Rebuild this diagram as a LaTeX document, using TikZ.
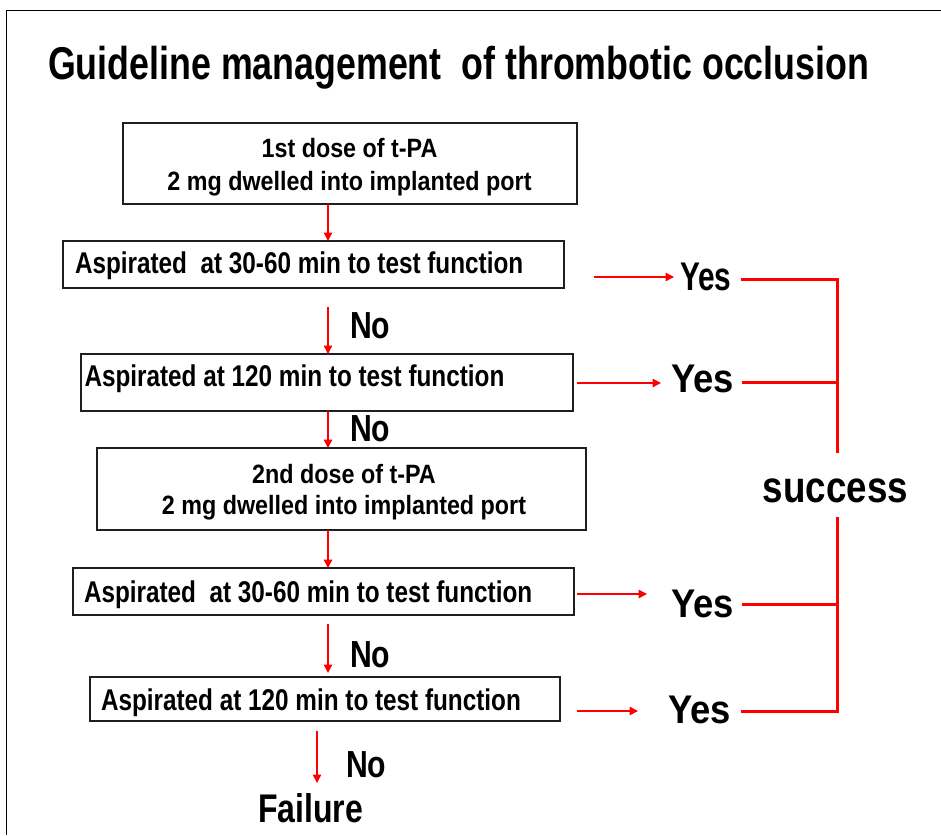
\documentclass[tikz,border=0pt]{standalone}
\usepackage{fontspec}
\setmainfont{Liberation Sans}
\usetikzlibrary{arrows.meta}
\newcommand\sx[2]{\scalebox{#1}[1]{#2}}
\begin{document}
\begin{tikzpicture}[x=1pt,y=-1pt,
  every node/.style={inner sep=0pt, outer sep=0pt},
  box/.style={draw=black!88, line width=1.8pt, rectangle},
  ttl/.style={font=\bfseries\fontsize{46}{54}\selectfont, anchor=base west},
  t1/.style={font=\bfseries\fontsize{30}{36}\selectfont, anchor=base west},
  t2/.style={font=\bfseries\fontsize{26.5}{32}\selectfont, anchor=base},
  yes/.style={font=\bfseries\fontsize{40}{48}\selectfont, anchor=base west},
  no/.style={font=\bfseries\fontsize{37.7}{44}\selectfont, anchor=base west},
  arr/.style={draw=red, line width=1.4pt, -{Triangle[length=8.5pt,width=8.5pt]}},
  brk/.style={draw=red, line width=3pt},
]
\useasboundingbox (0,0) rectangle (941,835);
\fill[white] (0,0) rectangle (941,835);
% frame
\draw[line width=1.8pt] (6.5,835) -- (6.5,10.5) -- (941,10.5);

% title
\node[ttl] (title) at (48,79) {\sx{0.778}{Guideline management~ of thrombotic occlusion}};

% boxes
\node[box, minimum width=454pt, minimum height=81pt] (b1) at (350,163.5) {};
\node[box, minimum width=501pt, minimum height=47pt] (b2) at (313.5,264.5) {};
\node[box, minimum width=492pt, minimum height=57pt] (b3) at (327,382.5) {};
\node[box, minimum width=489pt, minimum height=82pt] (b4) at (341.5,489) {};
\node[box, minimum width=501pt, minimum height=47pt] (b5) at (323.5,591.5) {};
\node[box, minimum width=470pt, minimum height=44pt] (b6) at (325,699) {};

% box texts
\node[t2] (b1a) at (349.5,157) {\sx{0.88}{1st dose of t-PA}};
\node[t2] (b1b) at (349.5,190) {\sx{0.88}{2 mg dwelled into implanted port}};
\node[t1] (b2t) at (75,273) {\sx{0.81}{Aspirated~ at 30-60 min to test function}};
\node[t1] (b3t) at (84.5,386) {\sx{0.81}{Aspirated at 120 min to test function}};
\node[t2] (b4a) at (344,483) {\sx{0.88}{2nd dose of t-PA}};
\node[t2] (b4b) at (344,514) {\sx{0.88}{2 mg dwelled into implanted port}};
\node[t1] (b5t) at (84,602) {\sx{0.81}{Aspirated~ at 30-60 min to test function}};
\node[t1] (b6t) at (101,710) {\sx{0.81}{Aspirated at 120 min to test function}};

% yes / no / outcomes
\node[yes] (y1) at (680,290) {\sx{0.745}{Yes}};
\node[yes] (y2) at (671,392) {\sx{0.91}{Yes}};
\node[yes] (y3) at (671,617) {\sx{0.91}{Yes}};
\node[yes] (y4) at (668,723) {\sx{0.91}{Yes}};
\node[no] (n1) at (350,338) {\sx{0.8}{No}};
\node[no] (n2) at (350,441) {\sx{0.8}{No}};
\node[no] (n3) at (350,667) {\sx{0.8}{No}};
\node[no] (n4) at (346,777) {\sx{0.8}{No}};
\node[font=\bfseries\fontsize{40}{48}\selectfont, anchor=base west] (fail) at (258,822) {\sx{0.8}{Failure}};
\node[font=\bfseries\fontsize{44}{52}\selectfont, anchor=base, text height=49pt, text depth=15pt] (s) at (835.5,502) {\sx{0.835}{success}};

% helper coordinates
\coordinate (ax) at (328,0);
\coordinate (ax2) at (317,0);
\coordinate (r1) at (0,277);
\coordinate (r2) at (0,383);
\coordinate (r3) at (0,594);
\coordinate (r4) at (0,711);
\coordinate (j1) at (837,279);
\coordinate (j2) at (837,382);
\coordinate (j3) at (837,604);
\coordinate (j4) at (837,711);

% vertical arrows
\draw[arr] (b1.south -| ax) -- (b2.north -| ax);
\draw[arr, shorten <=19pt] (b2.south -| ax) -- (b3.north -| ax);
\draw[arr] (b3.south -| ax) -- (b4.north -| ax);
\draw[arr] (b4.south -| ax) -- (b5.north -| ax);
\draw[arr, shorten <=9pt, shorten >=4pt] (b5.south -| ax) -- (b6.north -| ax);
\draw[arr, shorten <=10pt, shorten >=10pt] (b6.south -| ax2) -- (fail.north -| ax2);

% horizontal arrows
\draw[arr, shorten <=30pt, shorten >=6pt] (b2.east |- r1) -- (y1.west |- r1);
\draw[arr, shorten <=4pt, shorten >=10pt] (b3.east |- r2) -- (y2.west |- r2);
\draw[arr, shorten <=3pt, shorten >=24pt] (b5.east |- r3) -- (y3.west |- r3);
\draw[arr, shorten <=17pt, shorten >=30pt] (b6.east |- r4) -- (y4.west |- r4);

% success bracket
\draw[brk, shorten <=10pt] (y1.east |- j1) -- (j1) -- (j1 |- s.north);
\draw[brk, shorten <=8pt] (y2.east |- j2) -- (j2);
\draw[brk, shorten <=8pt] (y3.east |- j3) -- (j3);
\draw[brk, shorten >=10pt] (j4 |- s.south) -- (j4) -- (y4.east |- j4);
\end{tikzpicture}
\end{document}
